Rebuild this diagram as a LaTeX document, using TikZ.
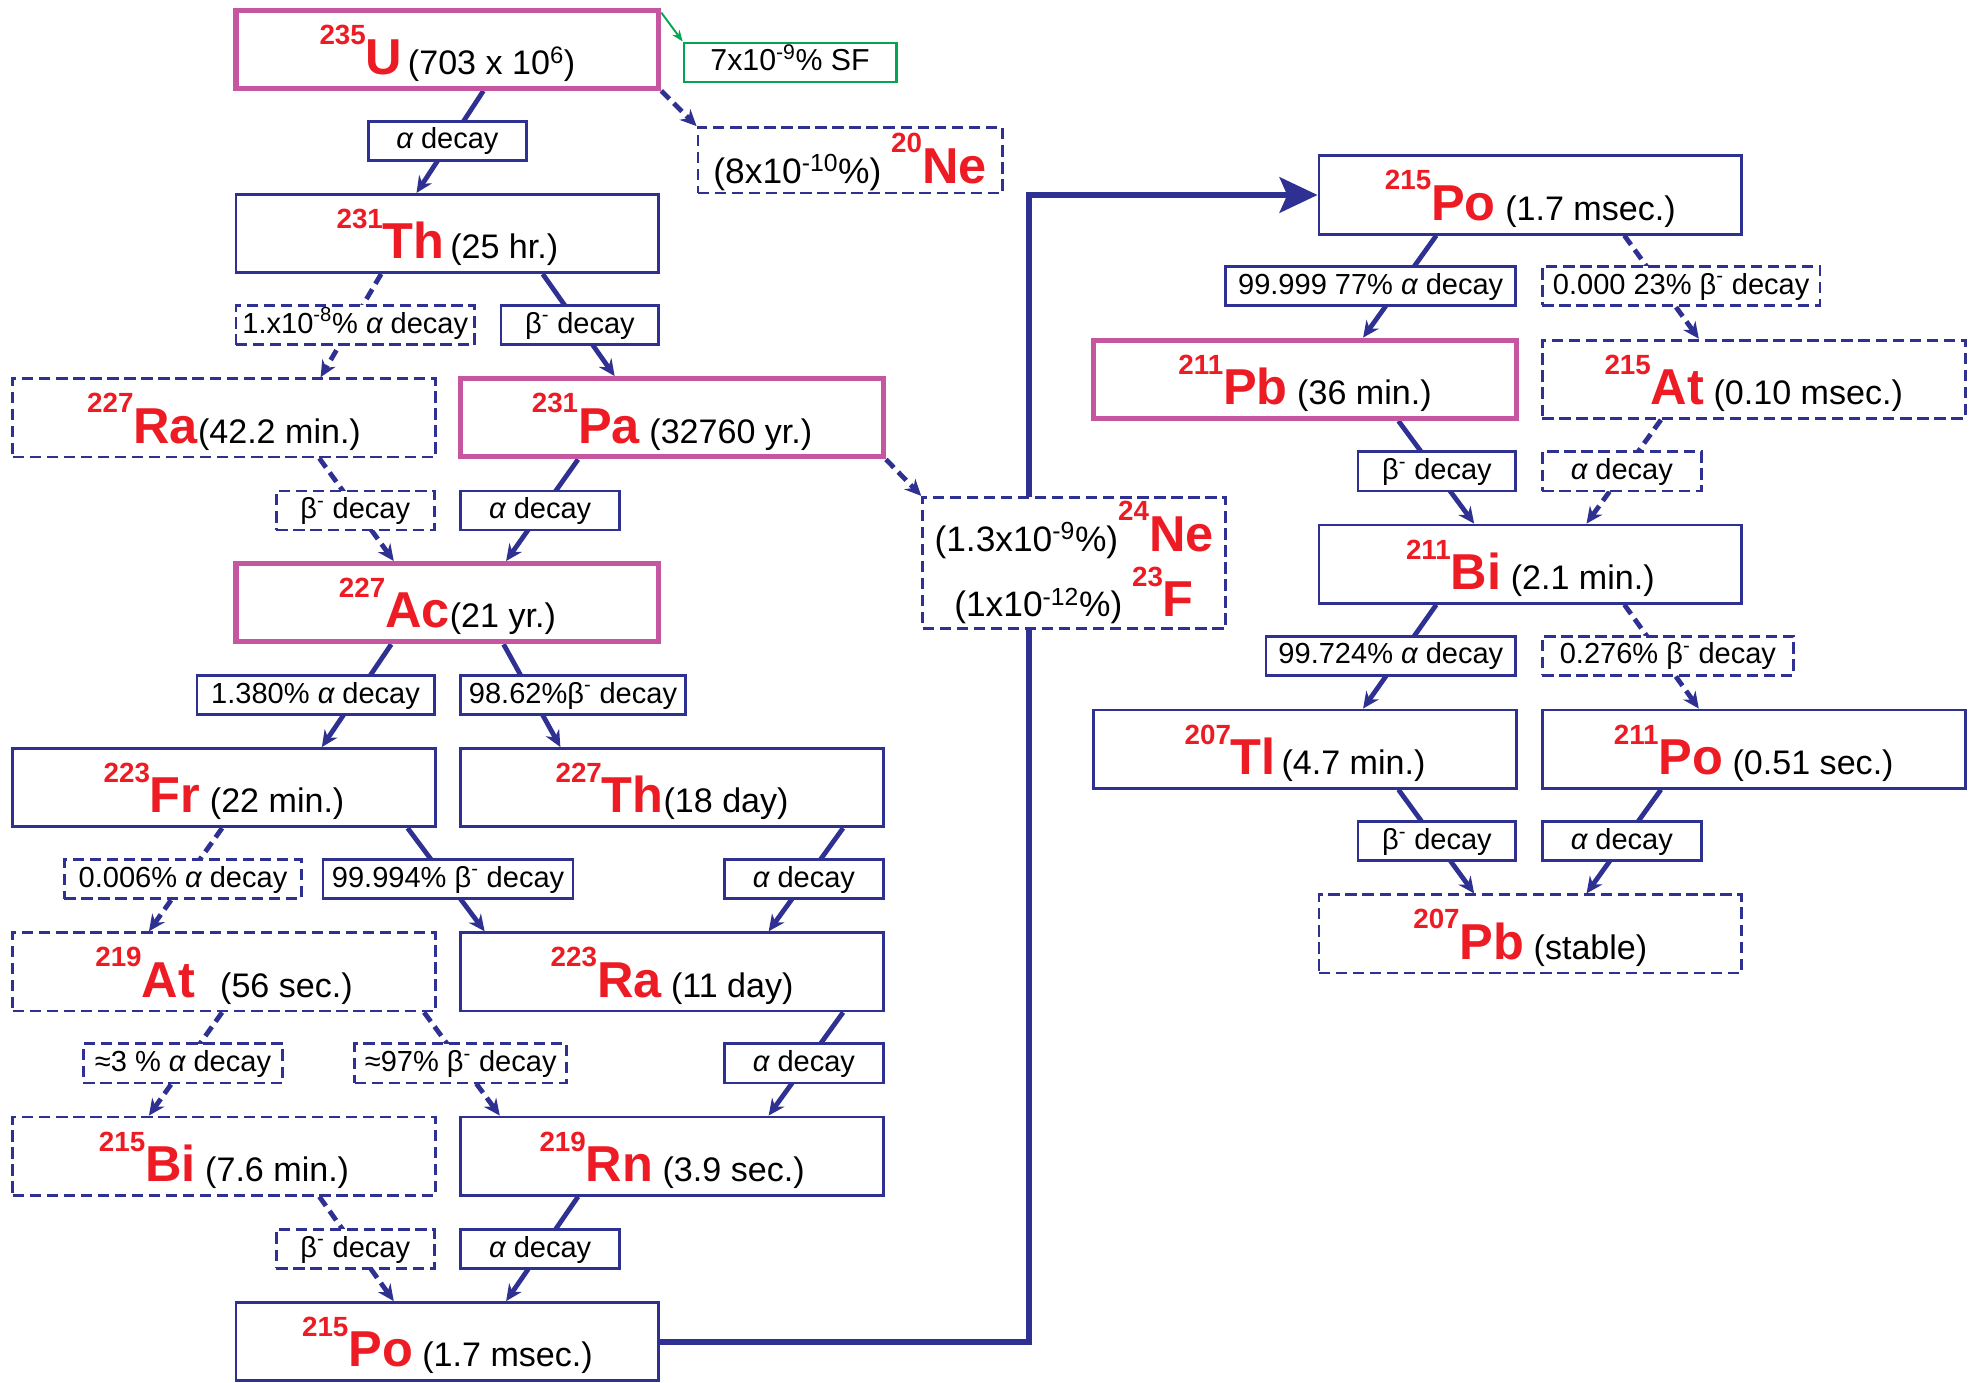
\documentclass[tikz,border=0pt]{standalone}
\usepackage{fontspec}
\setmainfont{Liberation Sans}
\usetikzlibrary{arrows.meta,backgrounds}

\definecolor{nblue}{RGB}{46,49,146}
\definecolor{nmag}{RGB}{199,86,160}
\definecolor{nred}{RGB}{237,28,36}
\definecolor{ngreen}{RGB}{0,166,81}

% mass number + element symbol
\newcommand{\nuc}[2]{\raisebox{24pt}{\fontsize{22}{22}\selectfont\bfseries\color{nred}#1}{\fontsize{40}{40}\selectfont\bfseries\color{nred}#2}}
\newcommand{\alp}{{\itshape α}}
\newcommand{\bem}{β\textsuperscript{-}}

\tikzset{
  nucbox/.style={draw=nblue, line width=2.2pt, fill=white, inner sep=0pt,
    minimum width=335pt, minimum height=62pt, text height=40pt, text depth=0pt,
    font=\fontsize{27}{30}\selectfont},
  parentbox/.style={draw=nmag, line width=4pt},
  rarebox/.style={dash pattern=on 9pt off 4.5pt},
  decaybox/.style={draw=nblue, line width=2.2pt, fill=white, inner sep=0pt,
    minimum height=31pt, text height=17pt, text depth=4pt,
    font=\fontsize{23}{26}\selectfont},
  decayline/.style={draw=nblue, line width=3.8pt, -{Stealth[length=13pt,width=12pt]}},
  rareline/.style={decayline, dash pattern=on 9pt off 5pt},
}

\begin{document}
\begin{tikzpicture}[x=1pt,y=-1pt]
\useasboundingbox (0,0) rectangle (1568,1095);

% actinium series
\node[nucbox,parentbox] (U235) at (354.5,39) {\nuc{235}{U}\,(703 x 10\textsuperscript{6})};
\node[nucbox] (Th231) at (354.5,185) {\nuc{231}{Th}\,(25 hr.)};
\node[nucbox,rarebox] (Ra227) at (177.5,331) {\nuc{227}{Ra}(42.2 min.)};
\node[nucbox,parentbox] (Pa231) at (532.5,331) {\nuc{231}{Pa} (32760 yr.)};
\node[nucbox,parentbox] (Ac227) at (354.5,477.5) {\nuc{227}{Ac}(21 yr.)};
\node[nucbox] (Fr223) at (177.5,624) {\nuc{223}{Fr} (22 min.)};
\node[nucbox] (Th227) at (532.5,624) {\nuc{227}{Th}(18 day)};
\node[nucbox,rarebox] (At219) at (177.5,770) {\nuc{219}{At}\hspace{20pt}(56 sec.)};
\node[nucbox] (Ra223) at (532.5,770) {\nuc{223}{Ra} (11 day)};
\node[nucbox,rarebox] (Bi215) at (177.5,916) {\nuc{215}{Bi} (7.6 min.)};
\node[nucbox] (Rn219) at (532.5,916) {\nuc{219}{Rn} (3.9 sec.)};
\node[nucbox] (Po215b) at (354.5,1063) {\nuc{215}{Po} (1.7 msec.)};

\node[nucbox] (Po215t) at (1212.5,154.5) {\nuc{215}{Po} (1.7 msec.)};
\node[nucbox,parentbox] (Pb211) at (1034,300.5) {\nuc{211}{Pb} (36 min.)};
\node[nucbox,rarebox] (At215) at (1389.5,300.5) {\nuc{215}{At} (0.10 msec.)};
\node[nucbox] (Bi211) at (1212.5,447) {\nuc{211}{Bi} (2.1 min.)};
\node[nucbox] (Tl207) at (1034,593.5) {\nuc{207}{Tl}\,(4.7 min.)};
\node[nucbox] (Po211) at (1389.5,593.5) {\nuc{211}{Po} (0.51 sec.)};
\node[nucbox,rarebox] (Pb207) at (1212.5,740) {\nuc{207}{Pb} (stable)};

% cluster decay and fission
\node[decaybox, draw=ngreen, minimum width=168pt, font=\fontsize{24}{26}\selectfont] (SF) at (626,49.5) {7x10\textsuperscript{-9}\% SF};
\node[nucbox, rarebox, minimum width=241pt, minimum height=52pt, text height=36pt,
  font=\fontsize{28}{30}\selectfont] (Ne20) at (673.5,127) {(8x10\textsuperscript{-10}\%) \nuc{20}{Ne}};
\node[nucbox, rarebox, minimum width=240pt, minimum height=104pt, text height=, text depth=,
  align=center, font=\fontsize{28}{52}\selectfont] (NeF) at (851,446)
  {(1.3x10\textsuperscript{-9}\%)\nuc{24}{Ne}\\(1x10\textsuperscript{-12}\%) \nuc{23}{F}};

\begin{scope}[on background layer]
\foreach \a/\da/\b/\db in {U235/28.5/Th231/-24.5, Th231/75.5/Pa231/-45.5,
  Pa231/-74.5/Ac227/46.5, Ac227/-44.5/Fr223/77.5, Ac227/44.5/Th227/-88.5,
  Fr223/145.5/Ra223/-148.5, Th227/135.5/Ra223/76.5, Ra223/135.5/Rn219/76.5,
  Rn219/-74.5/Po215b/46.5, Po215t/-74.5/Pb211/46, Pb211/74/Bi211/-44.5,
  Bi211/-74.5/Tl207/46, Tl207/74/Pb207/-44.5, Po211/-73.5/Pb207/44.5}
  \draw[decayline] ([xshift=\da pt]\a.south) -- ([xshift=\db pt]\b.north);
\foreach \a/\da/\b/\db in {Th231/-52.5/Ra227/76.5, Ra227/75.5/Ac227/-42.5,
  Fr223/-1.5/At219/-59.5, At219/-1.5/Bi215/-59.5, At219/158.5/Rn219/-136.5,
  Bi215/75.5/Po215b/-42.5, Po215t/74.5/At215/-43.5, At215/-73.5/Bi211/44.5,
  Bi211/74.5/Po211/-43.5}
  \draw[rareline] ([xshift=\da pt]\a.south) -- ([xshift=\db pt]\b.north);
\draw[rareline] (U235.south east) -- (Ne20.north west);
\draw[rareline] (Pa231.south east) -- (NeF.north west);
\draw[ngreen, line width=1.5pt, -{Stealth[length=9pt,width=7pt]}] ([yshift=-4pt]U235.north east) -- (SF.north west);
\coordinate (riser) at (815,0);
\draw[nblue, line width=4.8pt, -{Stealth[length=30pt,width=28pt,inset=6pt]}]
  (Po215b.east) -| (riser |- Po215t.west) -- (Po215t.west);
\end{scope}

% decay modes
\node[decaybox, minimum width=125pt] (d1) at (354.5,111.5) {\alp\ decay};
\node[decaybox, rarebox, minimum width=189pt] (d2) at (281.5,257.5) {1.x10\textsuperscript{-8}\% \alp\ decay};
\node[decaybox, minimum width=125pt] (d3) at (459.5,257.5) {\bem\ decay};
\node[decaybox, rarebox, minimum width=125pt] (d4) at (281.5,404.5) {\bem\ decay};
\node[decaybox, minimum width=126pt] (d5) at (428,404.5) {\alp\ decay};
\node[decaybox, minimum width=188pt] (d6) at (250,550.5) {1.380\% \alp\ decay};
\node[decaybox, minimum width=178pt] (d7) at (454,550.5) {98.62\%\bem\ decay};
\node[decaybox, rarebox, minimum width=188pt] (d8) at (145,696.5) {0.006\% \alp\ decay};
\node[decaybox, minimum width=198pt] (d9) at (355,696.5) {99.994\% \bem\ decay};
\node[decaybox, minimum width=126pt] (d10) at (637,696.5) {\alp\ decay};
\node[decaybox, rarebox, minimum width=158pt] (d11) at (145,842.5) {≈3 \% \alp\ decay};
\node[decaybox, rarebox, minimum width=168pt] (d12) at (365,842.5) {≈97\% \bem\ decay};
\node[decaybox, minimum width=126pt] (d13) at (637,842.5) {\alp\ decay};
\node[decaybox, rarebox, minimum width=125pt] (d14) at (281.5,989.5) {\bem\ decay};
\node[decaybox, minimum width=126pt] (d15) at (428,989.5) {\alp\ decay};

\node[decaybox, minimum width=230pt] (d16) at (1086,226.5) {99.999 77\% \alp\ decay};
\node[decaybox, rarebox, minimum width=220pt] (d17) at (1332,226.5) {0.000 23\% \bem\ decay};
\node[decaybox, minimum width=125pt] (d18) at (1138.5,373.5) {\bem\ decay};
\node[decaybox, rarebox, minimum width=126pt] (d19) at (1285,373.5) {\alp\ decay};
\node[decaybox, minimum width=198pt] (d20) at (1102,519.5) {99.724\% \alp\ decay};
\node[decaybox, rarebox, minimum width=199pt] (d21) at (1321.5,519.5) {0.276\% \bem\ decay};
\node[decaybox, minimum width=125pt] (d22) at (1138.5,666.5) {\bem\ decay};
\node[decaybox, minimum width=126pt] (d23) at (1285,666.5) {\alp\ decay};
\end{tikzpicture}
\end{document}
